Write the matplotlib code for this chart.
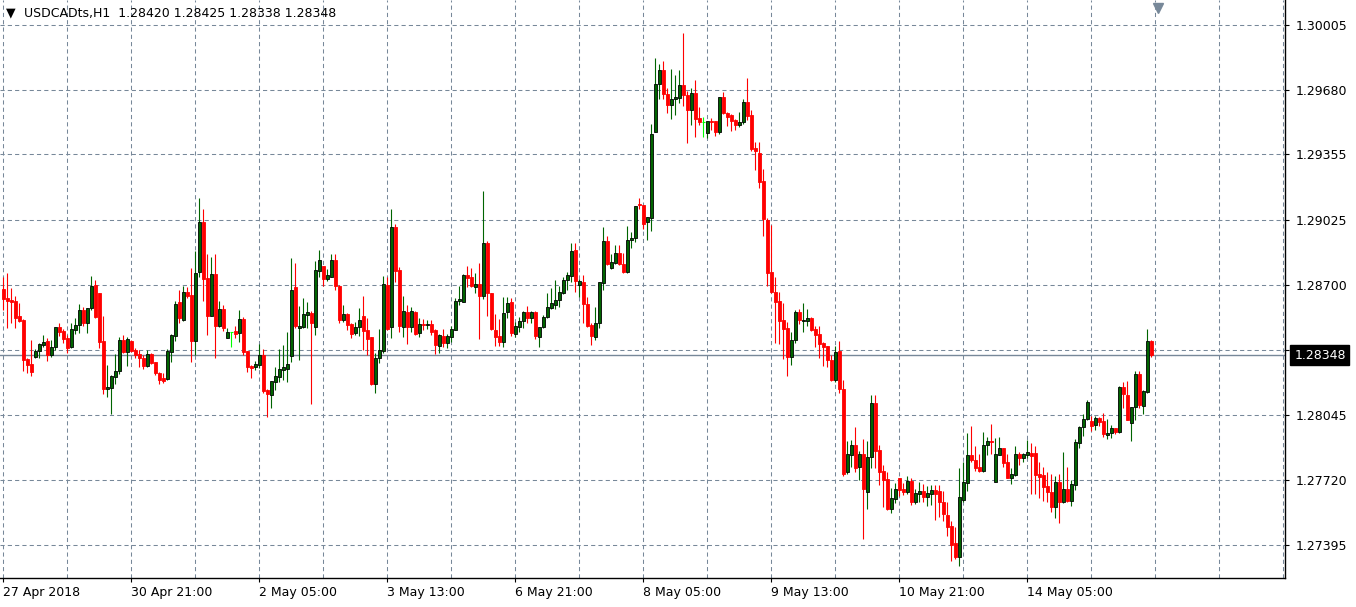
import numpy as np
import matplotlib.pyplot as plt
from matplotlib import transforms

# USDCAD H1 candles (oldest first)
opens = [
    1.28680, 1.28635, 1.28625, 1.28620, 1.28545, 1.28525, 1.28330, 1.28305, 1.28340, 1.28370,
    1.28400, 1.28420, 1.28350, 1.28390, 1.28490, 1.28470, 1.28435, 1.28390, 1.28475, 1.28500,
    1.28575, 1.28510, 1.28585, 1.28700, 1.28660, 1.28420, 1.28180, 1.28185, 1.28240, 1.28270,
    1.28425, 1.28365, 1.28420, 1.28375, 1.28355, 1.28335, 1.28295, 1.28355, 1.28315, 1.28260,
    1.28235, 1.28230, 1.28365, 1.28445, 1.28615, 1.28525, 1.28665, 1.28650, 1.28420, 1.28765,
    1.29015, 1.28735, 1.28545, 1.28755, 1.28495, 1.28580, 1.28435, 1.28465, 1.28470, 1.28460,
    1.28530, 1.28370, 1.28295, 1.28290, 1.28300, 1.28350, 1.28175, 1.28145, 1.28215, 1.28240,
    1.28275, 1.28280, 1.28345, 1.28690, 1.28485, 1.28490, 1.28550, 1.28560, 1.28490, 1.28770,
    1.28795, 1.28730, 1.28740, 1.28825, 1.28695, 1.28525, 1.28555, 1.28505, 1.28460, 1.28490,
    1.28545, 1.28475, 1.28440, 1.28205, 1.28335, 1.28370, 1.28700, 1.28490, 1.28990, 1.28775,
    1.28490, 1.28565, 1.28490, 1.28565, 1.28460, 1.28505, 1.28500, 1.28505, 1.28475, 1.28395,
    1.28445, 1.28410, 1.28440, 1.28475, 1.28620, 1.28615, 1.28750, 1.28740, 1.28690, 1.28705,
    1.28645, 1.28910, 1.28660, 1.28475, 1.28445, 1.28415, 1.28565, 1.28615, 1.28455, 1.28490,
    1.28520, 1.28565, 1.28535, 1.28565, 1.28440, 1.28490, 1.28540, 1.28585, 1.28600, 1.28625,
    1.28660, 1.28725, 1.28745, 1.28875, 1.28700, 1.28715, 1.28605, 1.28500, 1.28440, 1.28510,
    1.28710, 1.28920, 1.28785, 1.28810, 1.28860, 1.28805, 1.28765, 1.28925, 1.28935, 1.29105,
    1.29100, 1.29015, 1.29035, 1.29465, 1.29710, 1.29780, 1.29660, 1.29605, 1.29635, 1.29640,
    1.29705, 1.29655, 1.29580, 1.29665, 1.29540, 1.29520, 1.29460, 1.29525, 1.29525, 1.29465,
    1.29645, 1.29565, 1.29555, 1.29530, 1.29505, 1.29520, 1.29620, 1.29555, 1.29385, 1.29360,
    1.29220, 1.29025, 1.28765, 1.28665, 1.28620, 1.28525, 1.28485, 1.28340, 1.28425, 1.28565,
    1.28520, 1.28520, 1.28535, 1.28480, 1.28455, 1.28410, 1.28395, 1.28325, 1.28225, 1.28370,
    1.28180, 1.27760, 1.27845, 1.27895, 1.27785, 1.27850, 1.27660, 1.27835, 1.28105, 1.27870,
    1.27765, 1.27725, 1.27575, 1.27625, 1.27730, 1.27675, 1.27660, 1.27715, 1.27610, 1.27650,
    1.27665, 1.27635, 1.27650, 1.27670, 1.27665, 1.27610, 1.27545, 1.27490, 1.27405, 1.27335,
    1.27620, 1.27705, 1.27845, 1.27820, 1.27785, 1.27765, 1.27895, 1.27915, 1.27710, 1.27845,
    1.27880, 1.27810, 1.27730, 1.27745, 1.27850, 1.27830, 1.27845, 1.27855, 1.27855, 1.27750,
    1.27745, 1.27690, 1.27660, 1.27585, 1.27710, 1.27610, 1.27675, 1.27615, 1.27695, 1.27905,
    1.27985, 1.28025, 1.28015, 1.27995, 1.28030, 1.28015, 1.27945, 1.27955, 1.27980, 1.27960,
    1.28190, 1.28145, 1.28005, 1.28085, 1.28255, 1.28090, 1.28165, 1.28420,
]
highs = [
    1.28740, 1.28760, 1.28685, 1.28645, 1.28610, 1.28530, 1.28335, 1.28425, 1.28380, 1.28410,
    1.28450, 1.28435, 1.28425, 1.28490, 1.28510, 1.28480, 1.28450, 1.28510, 1.28535, 1.28605,
    1.28590, 1.28585, 1.28745, 1.28725, 1.28660, 1.28545, 1.28300, 1.28250, 1.28355, 1.28440,
    1.28450, 1.28440, 1.28425, 1.28385, 1.28375, 1.28350, 1.28375, 1.28360, 1.28315, 1.28265,
    1.28260, 1.28380, 1.28455, 1.28620, 1.28675, 1.28695, 1.28690, 1.28785, 1.28870, 1.29135,
    1.29080, 1.28855, 1.28840, 1.28855, 1.28620, 1.28600, 1.28485, 1.28465, 1.28495, 1.28575,
    1.28540, 1.28370, 1.28300, 1.28320, 1.28405, 1.28380, 1.28180, 1.28220, 1.28290, 1.28380,
    1.28400, 1.28465, 1.28835, 1.28810, 1.28595, 1.28635, 1.28615, 1.28570, 1.28820, 1.28875,
    1.28795, 1.28780, 1.28855, 1.28855, 1.28700, 1.28600, 1.28560, 1.28510, 1.28515, 1.28585,
    1.28645, 1.28535, 1.28440, 1.28360, 1.28480, 1.28745, 1.28740, 1.29080, 1.29005, 1.28790,
    1.28645, 1.28600, 1.28590, 1.28570, 1.28535, 1.28530, 1.28525, 1.28525, 1.28480, 1.28455,
    1.28480, 1.28455, 1.28495, 1.28635, 1.28695, 1.28755, 1.28795, 1.28785, 1.28760, 1.28810,
    1.29170, 1.28920, 1.28660, 1.28555, 1.28530, 1.28640, 1.28640, 1.28635, 1.28515, 1.28540,
    1.28570, 1.28595, 1.28570, 1.28570, 1.28490, 1.28550, 1.28660, 1.28685, 1.28725, 1.28695,
    1.28740, 1.28765, 1.28910, 1.28910, 1.28730, 1.28750, 1.28640, 1.28510, 1.28590, 1.28715,
    1.28990, 1.28945, 1.28855, 1.28900, 1.28900, 1.28860, 1.28995, 1.28965, 1.29095, 1.29135,
    1.29100, 1.29040, 1.29510, 1.29840, 1.29810, 1.29825, 1.29690, 1.29785, 1.29755, 1.29780,
    1.29965, 1.29675, 1.29690, 1.29730, 1.29595, 1.29545, 1.29525, 1.29540, 1.29525, 1.29645,
    1.29670, 1.29570, 1.29560, 1.29535, 1.29570, 1.29635, 1.29740, 1.29580, 1.29415, 1.29415,
    1.29280, 1.29035, 1.29000, 1.28740, 1.28665, 1.28610, 1.28515, 1.28465, 1.28575, 1.28580,
    1.28610, 1.28580, 1.28540, 1.28495, 1.28495, 1.28415, 1.28395, 1.28350, 1.28395, 1.28420,
    1.28225, 1.27915, 1.27920, 1.27985, 1.27865, 1.27925, 1.27915, 1.28145, 1.28145, 1.27895,
    1.27795, 1.27760, 1.27680, 1.27705, 1.27730, 1.27705, 1.27740, 1.27730, 1.27675, 1.27710,
    1.27700, 1.27690, 1.27695, 1.27695, 1.27695, 1.27665, 1.27610, 1.27515, 1.27485, 1.27780,
    1.27810, 1.27955, 1.27990, 1.27890, 1.27850, 1.27960, 1.27935, 1.28000, 1.27930, 1.27935,
    1.27880, 1.27850, 1.27780, 1.27890, 1.27860, 1.27855, 1.27920, 1.27905, 1.27890, 1.27810,
    1.27785, 1.27760, 1.27750, 1.27740, 1.27750, 1.27860, 1.27785, 1.27720, 1.27925, 1.27990,
    1.28050, 1.28120, 1.28040, 1.28040, 1.28035, 1.28055, 1.28025, 1.27995, 1.27980, 1.28195,
    1.28215, 1.28220, 1.28085, 1.28270, 1.28270, 1.28175, 1.28480, 1.28425,
]
lows = [
    1.28575, 1.28485, 1.28510, 1.28485, 1.28515, 1.28270, 1.28260, 1.28245, 1.28335, 1.28335,
    1.28390, 1.28320, 1.28340, 1.28375, 1.28445, 1.28410, 1.28360, 1.28385, 1.28455, 1.28460,
    1.28495, 1.28460, 1.28575, 1.28535, 1.28385, 1.28150, 1.28135, 1.28050, 1.28205, 1.28255,
    1.28360, 1.28295, 1.28365, 1.28335, 1.28290, 1.28280, 1.28290, 1.28305, 1.28250, 1.28205,
    1.28210, 1.28225, 1.28315, 1.28420, 1.28510, 1.28520, 1.28635, 1.28315, 1.28350, 1.28740,
    1.28620, 1.28450, 1.28545, 1.28335, 1.28490, 1.28470, 1.28435, 1.28390, 1.28435, 1.28415,
    1.28350, 1.28265, 1.28235, 1.28275, 1.28285, 1.28160, 1.28035, 1.28080, 1.28175, 1.28215,
    1.28225, 1.28215, 1.28315, 1.28485, 1.28325, 1.28485, 1.28485, 1.28100, 1.28450, 1.28740,
    1.28695, 1.28720, 1.28740, 1.28675, 1.28510, 1.28515, 1.28475, 1.28435, 1.28450, 1.28445,
    1.28375, 1.28350, 1.28200, 1.28160, 1.28310, 1.28360, 1.28475, 1.28435, 1.28715, 1.28465,
    1.28440, 1.28405, 1.28465, 1.28450, 1.28440, 1.28475, 1.28480, 1.28450, 1.28355, 1.28360,
    1.28390, 1.28385, 1.28415, 1.28475, 1.28600, 1.28615, 1.28690, 1.28690, 1.28660, 1.28430,
    1.28630, 1.28545, 1.28475, 1.28395, 1.28395, 1.28390, 1.28535, 1.28445, 1.28440, 1.28465,
    1.28485, 1.28510, 1.28510, 1.28430, 1.28390, 1.28485, 1.28535, 1.28580, 1.28580, 1.28590,
    1.28655, 1.28675, 1.28715, 1.28665, 1.28640, 1.28510, 1.28490, 1.28400, 1.28425, 1.28485,
    1.28675, 1.28800, 1.28780, 1.28805, 1.28800, 1.28760, 1.28760, 1.28885, 1.28915, 1.29080,
    1.28980, 1.28925, 1.28970, 1.29465, 1.29635, 1.29635, 1.29565, 1.29535, 1.29555, 1.29615,
    1.29600, 1.29410, 1.29505, 1.29440, 1.29505, 1.29440, 1.29435, 1.29480, 1.29445, 1.29455,
    1.29560, 1.29500, 1.29470, 1.29480, 1.29495, 1.29510, 1.29530, 1.29370, 1.29275, 1.29185,
    1.28945, 1.28695, 1.28660, 1.28410, 1.28405, 1.28330, 1.28245, 1.28300, 1.28410, 1.28505,
    1.28465, 1.28495, 1.28470, 1.28390, 1.28335, 1.28295, 1.28290, 1.28220, 1.28215, 1.28160,
    1.27740, 1.27750, 1.27785, 1.27760, 1.27720, 1.27425, 1.27575, 1.27780, 1.27780, 1.27695,
    1.27585, 1.27570, 1.27555, 1.27605, 1.27640, 1.27645, 1.27650, 1.27595, 1.27600, 1.27610,
    1.27610, 1.27590, 1.27595, 1.27520, 1.27535, 1.27515, 1.27440, 1.27315, 1.27325, 1.27290,
    1.27610, 1.27665, 1.27810, 1.27765, 1.27760, 1.27760, 1.27845, 1.27850, 1.27710, 1.27845,
    1.27785, 1.27730, 1.27700, 1.27740, 1.27795, 1.27810, 1.27830, 1.27650, 1.27650, 1.27630,
    1.27615, 1.27610, 1.27560, 1.27530, 1.27505, 1.27605, 1.27610, 1.27590, 1.27670, 1.27880,
    1.27940, 1.28020, 1.27965, 1.27970, 1.27990, 1.27935, 1.27925, 1.27930, 1.27950, 1.27955,
    1.28080, 1.28020, 1.27915, 1.28020, 1.28080, 1.28050, 1.28160, 1.28338,
]
closes = [
    1.28630, 1.28620, 1.28615, 1.28535, 1.28520, 1.28325, 1.28300, 1.28265, 1.28370, 1.28405,
    1.28415, 1.28350, 1.28390, 1.28490, 1.28465, 1.28430, 1.28385, 1.28480, 1.28500, 1.28575,
    1.28510, 1.28585, 1.28695, 1.28540, 1.28415, 1.28180, 1.28190, 1.28245, 1.28270, 1.28425,
    1.28365, 1.28430, 1.28370, 1.28350, 1.28335, 1.28295, 1.28355, 1.28310, 1.28260, 1.28225,
    1.28220, 1.28370, 1.28450, 1.28605, 1.28535, 1.28665, 1.28645, 1.28420, 1.28760, 1.29015,
    1.28730, 1.28545, 1.28755, 1.28495, 1.28580, 1.28485, 1.28465, 1.28465, 1.28455, 1.28530,
    1.28365, 1.28290, 1.28285, 1.28305, 1.28350, 1.28170, 1.28150, 1.28220, 1.28245, 1.28280,
    1.28290, 1.28305, 1.28675, 1.28495, 1.28495, 1.28555, 1.28565, 1.28510, 1.28775, 1.28825,
    1.28730, 1.28750, 1.28825, 1.28695, 1.28525, 1.28555, 1.28500, 1.28455, 1.28490, 1.28525,
    1.28470, 1.28430, 1.28205, 1.28335, 1.28375, 1.28705, 1.28480, 1.28990, 1.28770, 1.28495,
    1.28570, 1.28490, 1.28570, 1.28455, 1.28505, 1.28500, 1.28505, 1.28465, 1.28400, 1.28450,
    1.28410, 1.28445, 1.28480, 1.28620, 1.28630, 1.28750, 1.28735, 1.28695, 1.28705, 1.28645,
    1.28910, 1.28660, 1.28480, 1.28440, 1.28415, 1.28560, 1.28610, 1.28460, 1.28495, 1.28520,
    1.28565, 1.28535, 1.28565, 1.28445, 1.28490, 1.28540, 1.28590, 1.28610, 1.28625, 1.28665,
    1.28725, 1.28750, 1.28870, 1.28720, 1.28720, 1.28605, 1.28495, 1.28445, 1.28510, 1.28715,
    1.28920, 1.28805, 1.28815, 1.28860, 1.28805, 1.28765, 1.28925, 1.28935, 1.29095, 1.29100,
    1.29005, 1.29040, 1.29455, 1.29710, 1.29780, 1.29660, 1.29605, 1.29635, 1.29645, 1.29705,
    1.29655, 1.29580, 1.29665, 1.29535, 1.29520, 1.29520, 1.29525, 1.29520, 1.29465, 1.29645,
    1.29565, 1.29545, 1.29525, 1.29505, 1.29520, 1.29620, 1.29550, 1.29380, 1.29370, 1.29215,
    1.29030, 1.28760, 1.28665, 1.28615, 1.28520, 1.28480, 1.28340, 1.28425, 1.28565, 1.28525,
    1.28525, 1.28535, 1.28475, 1.28450, 1.28405, 1.28390, 1.28325, 1.28225, 1.28365, 1.28180,
    1.27750, 1.27850, 1.27895, 1.27780, 1.27850, 1.27675, 1.27835, 1.28105, 1.27865, 1.27760,
    1.27720, 1.27575, 1.27630, 1.27675, 1.27670, 1.27660, 1.27715, 1.27610, 1.27655, 1.27665,
    1.27635, 1.27655, 1.27670, 1.27650, 1.27610, 1.27550, 1.27485, 1.27395, 1.27335, 1.27635,
    1.27710, 1.27845, 1.27820, 1.27780, 1.27765, 1.27895, 1.27915, 1.27910, 1.27850, 1.27880,
    1.27805, 1.27730, 1.27750, 1.27850, 1.27830, 1.27850, 1.27860, 1.27840, 1.27745, 1.27735,
    1.27685, 1.27660, 1.27585, 1.27710, 1.27610, 1.27675, 1.27615, 1.27700, 1.27910, 1.27985,
    1.28025, 1.28110, 1.27990, 1.28030, 1.28010, 1.27950, 1.27955, 1.27980, 1.27960, 1.28190,
    1.28150, 1.28020, 1.28085, 1.28255, 1.28095, 1.28170, 1.28420, 1.28348,
]

price_levels = [1.27395, 1.27720, 1.28045, 1.28375, 1.28700, 1.29025, 1.29355, 1.29680, 1.30005]
# the 1.28375 label sits under the bid box in the terminal, so it is left blank
price_labels = ['1.27395', '1.27720', '1.28045', '', '1.28700',
                '1.29025', '1.29355', '1.29680', '1.30005']
time_labels = ['27 Apr 2018', '30 Apr 21:00', '2 May 05:00', '3 May 13:00', '6 May 21:00',
               '8 May 05:00', '9 May 13:00', '10 May 21:00', '14 May 05:00']

symbol = 'USDCADts,H1'

o = np.array(opens)
h = np.array(highs)
l = np.array(lows)
c = np.array(closes)
x = np.arange(len(c))

BULL = '#006400'
BEAR = '#ff0000'
DOJI = '#00ff00'
GRID = '#778899'

plt.rcParams['font.family'] = ['DejaVu Sans']

fig = plt.figure(figsize=(13.56, 6.07), dpi=100)
ax = fig.add_axes([0, 29 / 607, 1285 / 1356, 578 / 607])
ax.set_xlim(-0.825, 320.4)
ax.set_ylim(1.27229, 1.30130)

# grid: every 16 bars vertically, price levels horizontally
for v in range(0, 321, 16):
    ax.axvline(v, color=GRID, lw=0.75, ls=(0, (4, 3)), zorder=0)
for p in price_levels:
    ax.axhline(p, color=GRID, lw=0.75, ls=(0, (4, 3)), zorder=0)

up = c > o
down = c < o
flat = c == o
wick_cols = np.where(up, BULL, np.where(down, BEAR, DOJI))

ax.vlines(x, l, h, colors=wick_cols, lw=0.8, zorder=2)
ax.bar(x[up], (c - o)[up], bottom=o[up], width=0.62, color=BULL,
       edgecolor='black', linewidth=0.6, zorder=3)
ax.bar(x[down], (o - c)[down], bottom=c[down], width=0.62, color=BEAR,
       edgecolor=BEAR, linewidth=0.6, zorder=3)
ax.hlines(c[flat], x[flat] - 0.4, x[flat] + 0.4, colors=DOJI, lw=0.8, zorder=3)

# current bid line
ax.axhline(c[-1], color=GRID, lw=1.0, zorder=1)

for s in ['top', 'left']:
    ax.spines[s].set_visible(False)
for s in ['right', 'bottom']:
    ax.spines[s].set_color('black')
    ax.spines[s].set_linewidth(1.0)

ax.yaxis.tick_right()
ax.set_yticks(price_levels)
ax.set_yticklabels(price_labels)
ax.tick_params(axis='y', length=3, width=0.8, pad=5, labelsize=9, colors='black')

ax.set_xticks(np.arange(len(time_labels)) * 32)
ax.set_xticklabels(time_labels, ha='left')
ax.tick_params(axis='x', length=3, width=0.8, pad=3, labelsize=9, colors='black')

# price box on the right scale
ax.annotate(f'{c[-1]:.5f}', xy=(1320 / 1285, c[-1]), xycoords=('axes fraction', 'data'),
            ha='center', va='center', color='white', fontsize=9, zorder=10,
            annotation_clip=False,
            bbox=dict(boxstyle='square,pad=0.3', fc='black', ec='black'))

# chart shift marker
blend = transforms.blended_transform_factory(ax.transData, ax.transAxes)
ax.plot([len(c) + 0.7], [0.986], marker='v', ms=7, color=GRID, transform=blend,
        clip_on=False, zorder=5)

# header
fig.text(6 / 1356, 1 - 13 / 607, '\u25bc', fontsize=9, va='center', ha='left')
fig.text(24 / 1356, 1 - 14 / 607,
         f'{symbol}  {o[-1]:.5f} {h[-1]:.5f} {l[-1]:.5f} {c[-1]:.5f}',
         fontsize=9, va='center', ha='left')

fig.savefig('out.png', dpi=100, facecolor='white')
